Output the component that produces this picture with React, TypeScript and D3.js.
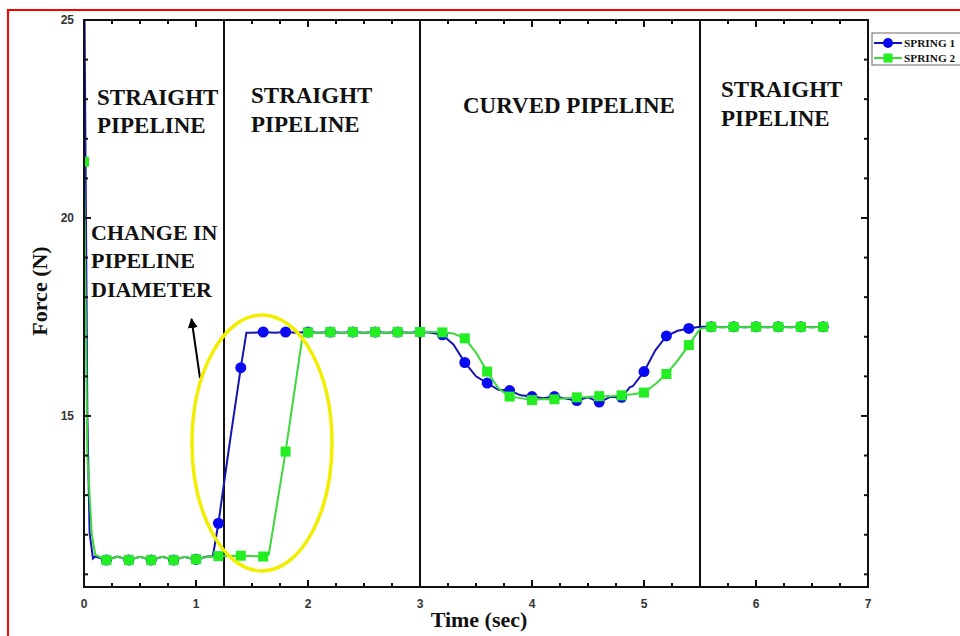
import React from 'react';
import * as d3 from 'd3';

// Spring 1 (blue, circles)
const spring1T = [0, 0.03, 0.05, 0.08, 0.1, 0.2, 0.3, 0.4, 0.5, 0.6, 0.7, 0.8, 0.9, 1.0, 1.1, 1.15, 1.2, 1.3, 1.4, 1.45, 1.5, 1.6, 1.7, 1.8, 1.9, 2.0, 2.1, 2.2, 2.3, 2.4, 2.5, 2.6, 2.7, 2.8, 2.9, 3.0, 3.1, 3.2, 3.3, 3.4, 3.5, 3.6, 3.7, 3.8, 3.9, 4.0, 4.1, 4.2, 4.3, 4.4, 4.5, 4.6, 4.7, 4.8, 4.875, 4.9, 5.0, 5.1, 5.2, 5.3, 5.4, 5.5, 5.6, 5.7, 5.8, 5.9, 6.0, 6.1, 6.2, 6.3, 6.4, 6.5, 6.6];
const spring1F = [27, 15, 12.05, 11.4, 11.45, 11.36, 11.45, 11.36, 11.44, 11.36, 11.44, 11.36, 11.44, 11.38, 11.45, 11.45, 12.29, 14.3, 16.22, 17.1, 17.1, 17.12, 17.1, 17.12, 17.1, 17.12, 17.1, 17.12, 17.1, 17.12, 17.1, 17.12, 17.1, 17.12, 17.1, 17.12, 17.1, 17.05, 16.8, 16.35, 16.0, 15.83, 15.66, 15.64, 15.52, 15.49, 15.45, 15.49, 15.44, 15.39, 15.47, 15.35, 15.48, 15.47, 15.73, 15.75, 16.12, 16.65, 17.02, 17.15, 17.21, 17.25, 17.25, 17.24, 17.25, 17.24, 17.25, 17.24, 17.25, 17.24, 17.25, 17.24, 17.25];

// Spring 2 (green, squares)
const spring2T = [0, 0.03, 0.07, 0.1, 0.15, 0.2, 0.3, 0.4, 0.5, 0.6, 0.7, 0.8, 0.9, 1.0, 1.1, 1.2, 1.3, 1.4, 1.5, 1.6, 1.65, 1.8, 1.95, 2.0, 2.1, 2.2, 2.3, 2.4, 2.5, 2.6, 2.7, 2.8, 2.9, 3.0, 3.1, 3.2, 3.3, 3.4, 3.5, 3.6, 3.7, 3.8, 3.9, 4.0, 4.1, 4.2, 4.3, 4.4, 4.5, 4.6, 4.7, 4.8, 4.9, 5.0, 5.1, 5.2, 5.3, 5.4, 5.5, 5.6, 5.7, 5.8, 5.9, 6.0, 6.1, 6.2, 6.3, 6.4, 6.5, 6.6];
const spring2F = [21.42, 14, 12, 11.5, 11.42, 11.36, 11.44, 11.36, 11.44, 11.36, 11.44, 11.36, 11.44, 11.38, 11.44, 11.46, 11.46, 11.47, 11.46, 11.45, 11.5, 14.1, 17.0, 17.11, 17.1, 17.12, 17.1, 17.12, 17.1, 17.12, 17.1, 17.12, 17.1, 17.12, 17.12, 17.11, 17.08, 16.96, 16.6, 16.12, 15.7, 15.49, 15.45, 15.4, 15.43, 15.42, 15.45, 15.47, 15.48, 15.5, 15.5, 15.52, 15.55, 15.59, 15.8, 16.06, 16.4, 16.79, 17.2, 17.25, 17.24, 17.25, 17.24, 17.25, 17.24, 17.25, 17.24, 17.25, 17.24, 17.25];

const regionBounds = [1.25, 3, 5.5];
const xMajor = [0, 1, 2, 3, 4, 5, 6, 7];
const yMajor = [15, 20, 25];

const W = 960;
const H = 636;
const L = 84, R = 868, T = 20, B = 587;

const x = d3.scaleLinear().domain([0, 7]).range([L, R]);
const y = d3.scaleLinear().domain([10.68, 25]).range([B, T]);

const toPts = (ts: number[], fs: number[]) => ts.map((t, i) => [t, fs[i]] as [number, number]);
const s1 = toPts(spring1T, spring1F);
const s2 = toPts(spring2T, spring2F);
const isMarker = (t: number) => Math.abs(t * 5 - Math.round(t * 5)) < 1e-6;

const line = d3.line<[number, number]>().x((d) => x(d[0])).y((d) => y(d[1]));

const serif = '"Liberation Serif", "Times New Roman", serif';
const sans = '"Liberation Sans", Arial, sans-serif';

export default function App() {
  const xMinor = d3.range(0, 7.001, 0.25).filter((v) => Math.abs(v - Math.round(v)) > 1e-6);
  const yMinor = d3.range(11, 25, 1).filter((v) => v % 5 !== 0);
  const blue = '#1414b4';
  const blueM = '#0a0af0';
  const green = '#3cd83c';
  const greenM = '#22ee22';
  const title = { fontFamily: serif, fontWeight: 700, fontSize: 23, fill: '#111' } as const;

  return (
    <svg width={W} height={H} style={{ position: 'absolute', left: 0, top: 0, background: '#fff' }}>
      <defs>
        <clipPath id="plot">
          <rect x={L} y={T} width={R - L} height={B - T} />
        </clipPath>
        <marker id="arr" viewBox="0 0 10 10" refX="9" refY="5" markerWidth="5" markerHeight="5" orient="auto">
          <path d="M0,0 L10,5 L0,10 z" fill="#000" />
        </marker>
      </defs>
      <rect x={8} y={10} width={980} height={660} fill="none" stroke="#ff0000" strokeWidth={2} />

      {/* region dividers */}
      {regionBounds.map((b) => (
        <line key={b} x1={x(b)} x2={x(b)} y1={T} y2={B} stroke="#111" strokeWidth={2} />
      ))}

      <g clipPath="url(#plot)">
        <path d={line(s1) || ''} fill="none" stroke={blue} strokeWidth={2} />
        {s1.filter((d) => isMarker(d[0])).map((d, i) => (
          <circle key={i} cx={x(d[0])} cy={y(d[1])} r={5.5} fill={blueM} />
        ))}
        <path d={line(s2) || ''} fill="none" stroke={green} strokeWidth={2} />
        {s2.filter((d) => isMarker(d[0])).map((d, i) => (
          <rect key={i} x={x(d[0]) - 5} y={y(d[1]) - 5} width={10} height={10} fill={greenM} />
        ))}
      </g>

      {/* frame */}
      <rect x={L} y={T} width={R - L} height={B - T} fill="none" stroke="#111" strokeWidth={2} />

      {/* ticks */}
      {xMajor.map((v) => (
        <g key={'xm' + v}>
          <line x1={x(v)} x2={x(v)} y1={B} y2={B - 7} stroke="#111" strokeWidth={2} />
          <line x1={x(v)} x2={x(v)} y1={T} y2={T + 7} stroke="#111" strokeWidth={2} />
          <text x={x(v)} y={B + 21} textAnchor="middle" fontFamily={sans} fontWeight={700} fontSize={12} fill="#333">{v}</text>
        </g>
      ))}
      {xMinor.map((v) => (
        <g key={'xn' + v}>
          <line x1={x(v)} x2={x(v)} y1={B} y2={B - 4} stroke="#111" strokeWidth={2} />
          <line x1={x(v)} x2={x(v)} y1={T} y2={T + 4} stroke="#111" strokeWidth={2} />
        </g>
      ))}
      {yMajor.map((v) => (
        <g key={'ym' + v}>
          <line x1={L} x2={L + 7} y1={y(v)} y2={y(v)} stroke="#111" strokeWidth={2} />
          <line x1={R} x2={R - 7} y1={y(v)} y2={y(v)} stroke="#111" strokeWidth={2} />
          <text x={L - 10} y={y(v) + 4} textAnchor="end" fontFamily={sans} fontWeight={700} fontSize={12} fill="#333">{v}</text>
        </g>
      ))}
      {yMinor.map((v) => (
        <g key={'yn' + v}>
          <line x1={L} x2={L + 4} y1={y(v)} y2={y(v)} stroke="#111" strokeWidth={2} />
          <line x1={R} x2={R - 4} y1={y(v)} y2={y(v)} stroke="#111" strokeWidth={2} />
        </g>
      ))}

      {/* axis titles */}
      <text x={479} y={627} textAnchor="middle" {...title} fontSize={22}>Time (sec)</text>
      <text transform="translate(47,291) rotate(-90)" textAnchor="middle" {...title} fontSize={22}>Force (N)</text>

      {/* region labels */}
      <text {...title}>
        <tspan x={97} y={105}>STRAIGHT</tspan>
        <tspan x={97} y={133}>PIPELINE</tspan>
      </text>
      <text {...title}>
        <tspan x={251} y={103}>STRAIGHT</tspan>
        <tspan x={251} y={132}>PIPELINE</tspan>
      </text>
      <text {...title} x={463} y={113}>CURVED PIPELINE</text>
      <text {...title}>
        <tspan x={721} y={97}>STRAIGHT</tspan>
        <tspan x={721} y={126}>PIPELINE</tspan>
      </text>
      <text {...title} fontSize={22}>
        <tspan x={91} y={240}>CHANGE IN</tspan>
        <tspan x={91} y={268}>PIPELINE</tspan>
        <tspan x={91} y={297}>DIAMETER</tspan>
      </text>

      {/* annotation */}
      <line x1={200} y1={378} x2={191.5} y2={319} stroke="#000" strokeWidth={2} markerEnd="url(#arr)" />
      <ellipse cx={262} cy={443} rx={70} ry={128} fill="none" stroke="#f2ee00" strokeWidth={3.5} />

      {/* legend */}
      <rect x={872} y={33} width={110} height={32} fill="#fff" stroke="#666" strokeWidth={1} />
      <line x1={874} x2={902} y1={43} y2={43} stroke={blue} strokeWidth={2} />
      <circle cx={888} cy={43} r={5} fill={blueM} />
      <text x={904} y={47} fontFamily={serif} fontWeight={700} fontSize={11.3} fill="#111">SPRING 1</text>
      <line x1={874} x2={902} y1={58} y2={58} stroke={green} strokeWidth={2} />
      <rect x={883.5} y={53.5} width={9} height={9} fill={greenM} />
      <text x={904} y={62} fontFamily={serif} fontWeight={700} fontSize={11.3} fill="#111">SPRING 2</text>
    </svg>
  );
}
